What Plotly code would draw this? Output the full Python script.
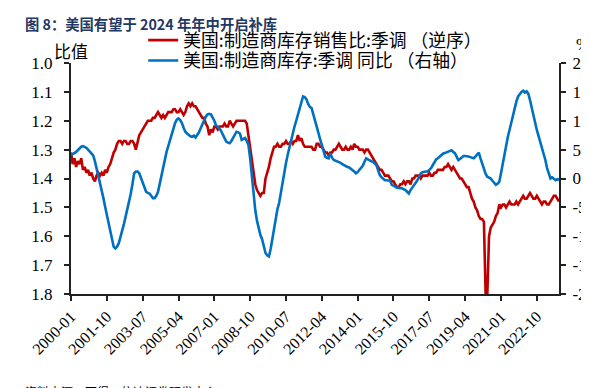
import plotly.graph_objects as go
import pandas as pd

months = [d.strftime("%Y-%m") for d in pd.date_range("2000-01-01", "2023-11-01", freq="MS")]

# 美国:制造商库存销售比:季调（逆序）- left axis, reversed
ratio = [
    1.31, 1.35, 1.33, 1.36, 1.34, 1.35, 1.33, 1.37, 1.36, 1.38, 1.37, 1.39,  # 2000
    1.38, 1.40, 1.41, 1.39, 1.38, 1.39, 1.38, 1.39, 1.37, 1.38, 1.36, 1.35,  # 2001
    1.33, 1.31, 1.30, 1.28, 1.27, 1.27, 1.28, 1.27, 1.27, 1.28, 1.28, 1.27,  # 2002
    1.27, 1.28, 1.30, 1.27, 1.25, 1.24, 1.23, 1.22, 1.21, 1.20, 1.20, 1.20,  # 2003
    1.19, 1.19, 1.18, 1.17, 1.18, 1.19, 1.18, 1.19, 1.18, 1.17, 1.17, 1.17,  # 2004
    1.16, 1.16, 1.17, 1.17, 1.16, 1.17, 1.18, 1.17, 1.15, 1.14, 1.15, 1.14,  # 2005
    1.15, 1.15, 1.16, 1.17, 1.18, 1.19, 1.19, 1.21, 1.22, 1.25, 1.23, 1.24,  # 2006
    1.22, 1.22, 1.23, 1.22, 1.22, 1.22, 1.21, 1.22, 1.22, 1.20, 1.21, 1.22,  # 2007
    1.21, 1.20, 1.20, 1.20, 1.20, 1.20, 1.20, 1.21, 1.25, 1.30, 1.34, 1.38,  # 2008
    1.42, 1.44, 1.45, 1.46, 1.45, 1.45, 1.40, 1.38, 1.36, 1.33, 1.31, 1.29,  # 2009
    1.29, 1.28, 1.29, 1.29, 1.28, 1.28, 1.27, 1.28, 1.28, 1.27, 1.28, 1.27,  # 2010
    1.27, 1.25, 1.27, 1.26, 1.28, 1.29, 1.29, 1.29, 1.29, 1.29, 1.30, 1.30,  # 2011
    1.28, 1.28, 1.29, 1.29, 1.30, 1.31, 1.31, 1.32, 1.31, 1.31, 1.30, 1.30,  # 2012
    1.29, 1.28, 1.29, 1.30, 1.30, 1.29, 1.30, 1.30, 1.29, 1.30, 1.28, 1.29,  # 2013
    1.29, 1.30, 1.30, 1.30, 1.31, 1.30, 1.30, 1.31, 1.32, 1.33, 1.34, 1.35,  # 2014
    1.36, 1.37, 1.37, 1.38, 1.39, 1.39, 1.39, 1.40, 1.41, 1.41, 1.42, 1.43,  # 2015
    1.43, 1.42, 1.42, 1.41, 1.42, 1.41, 1.41, 1.42, 1.40, 1.40, 1.39, 1.39,  # 2016
    1.39, 1.40, 1.39, 1.39, 1.39, 1.39, 1.38, 1.39, 1.39, 1.38, 1.38, 1.37,  # 2017
    1.37, 1.37, 1.37, 1.36, 1.36, 1.35, 1.36, 1.37, 1.36, 1.37, 1.38, 1.39,  # 2018
    1.40, 1.40, 1.41, 1.42, 1.43, 1.43, 1.45, 1.47, 1.48, 1.50, 1.51, 1.53,  # 2019
    1.54, 1.54, 1.55, 1.80, 1.80, 1.60, 1.57, 1.56, 1.55, 1.53, 1.52, 1.49,  # 2020
    1.50, 1.49, 1.49, 1.50, 1.49, 1.48, 1.49, 1.49, 1.49, 1.48, 1.49, 1.48,  # 2021
    1.47, 1.46, 1.47, 1.47, 1.46, 1.45, 1.46, 1.47, 1.47, 1.46, 1.47, 1.48,  # 2022
    1.49, 1.48, 1.48, 1.49, 1.49, 1.48, 1.47, 1.46, 1.46, 1.47, 1.48,        # 2023
]

# 美国:制造商库存:季调 同比（右轴）- %
inv_yoy = [
    4.1, 4.2, 4.4, 4.6, 4.9, 5.2, 5.5, 5.6, 5.5, 5.3, 5.0, 4.6,  # 2000
    4.3, 4.0, 3.0, 1.8, 0.6, -0.6, -2.0, -3.4, -4.9, -6.3, -7.8, -9.2,  # 2001
    -10.8, -11.8, -12.1, -11.8, -11.2, -10.2, -9.2, -7.9, -6.6, -5.3, -4.3, -2.7,  # 2002
    -1.0, 0.9, 1.2, 1.2, 0.9, 0.0, -0.8, -1.6, -2.3, -2.5, -2.6, -3.0,  # 2003
    -3.4, -3.4, -3.0, -2.3, -0.9, 0.6, 2.0, 3.5, 4.6, 5.6, 6.7, 7.8,  # 2004
    8.8, 9.6, 10.2, 10.4, 10.1, 9.6, 8.8, 8.1, 7.8, 7.5, 7.3, 7.2,  # 2005
    7.4, 7.1, 7.5, 8.0, 8.7, 9.4, 10.1, 10.7, 11.1, 11.2, 11.1, 10.6,  # 2006
    10.0, 9.2, 8.9, 8.7, 8.2, 7.5, 6.9, 6.4, 6.2, 6.1, 6.5, 7.0,  # 2007
    7.6, 8.1, 8.0, 7.8, 6.7, 6.9, 7.0, 6.5, 5.8, 3.5, 0.6, -3.0,  # 2008
    -5.5, -7.3, -8.9, -9.8, -10.5, -11.8, -12.9, -13.3, -13.5, -12.2, -10.4, -8.5,  # 2009
    -7.0, -5.3, -4.2, -2.3, -0.5, 1.2, 2.7, 4.1, 5.4, 6.7, 7.9, 9.0,  # 2010
    10.0, 11.0, 12.4, 13.3, 14.2, 14.1, 13.7, 12.9, 12.4, 12.2, 11.0, 10.1,  # 2011
    9.0, 7.9, 6.8, 5.8, 4.8, 3.8, 3.6, 3.5, 4.4, 3.6, 3.2, 3.1,  # 2012
    3.0, 2.9, 2.7, 2.5, 2.3, 2.1, 2.0, 1.9, 1.7, 1.5, 1.2, 0.9,  # 2013
    1.1, 1.5, 1.9, 2.2, 2.9, 3.5, 3.3, 3.1, 3.0, 2.9, 2.6, 2.3,  # 2014
    1.4, 0.6, 0.2, 0.0, -0.3, -0.3, -0.3, -0.4, -1.1, -1.2, -1.4, -1.6,  # 2015
    -1.7, -1.7, -1.7, -1.8, -2.0, -2.3, -2.6, -2.0, -1.6, -1.1, -0.7, -0.3,  # 2016
    0.3, 0.9, 1.1, 1.2, 1.2, 1.2, 1.5, 1.8, 2.3, 2.9, 3.3, 3.5,  # 2017
    3.8, 4.1, 4.3, 4.4, 4.5, 4.6, 4.8, 4.9, 4.6, 4.4, 3.8, 3.2,  # 2018
    3.4, 3.6, 3.9, 3.9, 3.9, 3.8, 3.7, 3.6, 3.5, 3.8, 4.1, 4.5,  # 2019
    3.5, 2.5, 1.5, 0.8, 0.3, 0.1, 0.0, -0.4, -0.8, -1.1, -0.9, -0.6,  # 2020
    0.9, 2.6, 4.4, 5.8, 7.2, 8.4, 9.6, 11.0, 12.4, 13.3, 14.2, 14.7,  # 2021
    15.0, 15.2, 14.9, 15.1, 14.7, 13.6, 12.2, 10.7, 9.5, 8.4, 7.4, 6.4,  # 2022
    5.5, 4.6, 3.2, 1.8, 0.8, 0.0, 0.2, 0.0, -0.3, -0.1, -0.2,  # 2023
]

x_ticks = ["2000-01", "2001-10", "2003-07", "2005-04", "2007-01", "2008-10", "2010-07",
           "2012-04", "2014-01", "2015-10", "2017-07", "2019-04", "2021-01", "2022-10"]
left_ticks = [1.0, 1.1, 1.2, 1.3, 1.4, 1.5, 1.6, 1.7, 1.8]
right_ticks = [20, 15, 10, 5, 0, -5, -10, -15, -20]
right_labels = ["20", "15", "10", "5", "0", "-5", "-10", "-15", "-20"]

serif = "Liberation Serif"
cjk = "Noto Sans CJK SC"

fig = go.Figure()
fig.add_trace(go.Scatter(x=months, y=ratio, mode="lines", name="美国:制造商库存销售比:季调 （逆序）",
                         line=dict(color="#C00000", width=2.6), yaxis="y", legend="legend"))
fig.add_trace(go.Scatter(x=months, y=inv_yoy, mode="lines", name="美国:制造商库存:季调 同比 （右轴）",
                         line=dict(color="#0070C0", width=2.6), yaxis="y2", legend="legend2"))

axis_common = dict(showgrid=False, zeroline=False, showline=True, linecolor="#222222", linewidth=2,
                   ticks="outside", ticklen=5, tickwidth=1.5, tickcolor="#222222",
                   ticklabeloverflow="allow",
                   tickfont=dict(family=serif, size=17, color="#000000"))

leg_common = dict(xanchor="left", yanchor="middle", bgcolor="rgba(0,0,0,0)",
                  font=dict(family=cjk, size=17.8, color="#000000"), itemwidth=30)

# the page body has an 8px margin, so the figure is 581x380 and sits at (8, 8)
fig.update_layout(
    width=581, height=380,
    margin=dict(l=63, r=30, t=55, b=94, autoexpand=False),
    paper_bgcolor="white", plot_bgcolor="white",
    showlegend=True,
    legend=dict(x=0.148, y=1.097, **leg_common),
    legend2=dict(x=0.148, y=1.009, **leg_common),
    xaxis=dict(type="category", categoryorder="array", categoryarray=months,
               range=[0, len(months) - 1], tickmode="array", tickvals=x_ticks, ticktext=x_ticks,
               tickangle=-45, **{**axis_common, "tickfont": dict(family=serif, size=16, color="#000000")}),
    yaxis=dict(range=[1.8, 1.0], tickmode="array", tickvals=left_ticks, tickformat=".1f",
               ticklabelstandoff=8, **axis_common),
    yaxis2=dict(range=[-20, 20], overlaying="y", side="right", tickmode="array",
                tickvals=right_ticks, ticktext=right_labels, ticklabelstandoff=3, **axis_common),
    annotations=[
        dict(text="<b>图 8：美国有望于 2024 年年中开启补库</b>", xref="paper", yref="paper",
             x=-0.098, y=1.172, xanchor="left", yanchor="middle", showarrow=False,
             font=dict(family=cjk, size=14.3, color="#1F3864")),
        dict(text="比值", xref="paper", yref="paper", x=0.0, y=1.056, xanchor="center",
             yanchor="middle", showarrow=False, font=dict(family=cjk, size=17, color="#000000")),
        dict(text="%", xref="paper", yref="paper", x=1.03, y=1.078, xanchor="left",
             yanchor="middle", showarrow=False, font=dict(family=serif, size=17, color="#000000")),
        dict(text="资料来源：万得，信达证券研发中心", xref="paper", yref="paper", x=-0.098, y=-0.377,
             xanchor="left", yanchor="top", showarrow=False,
             font=dict(family=cjk, size=12, color="#000000")),
    ],
)

fig.write_html("out.html")
